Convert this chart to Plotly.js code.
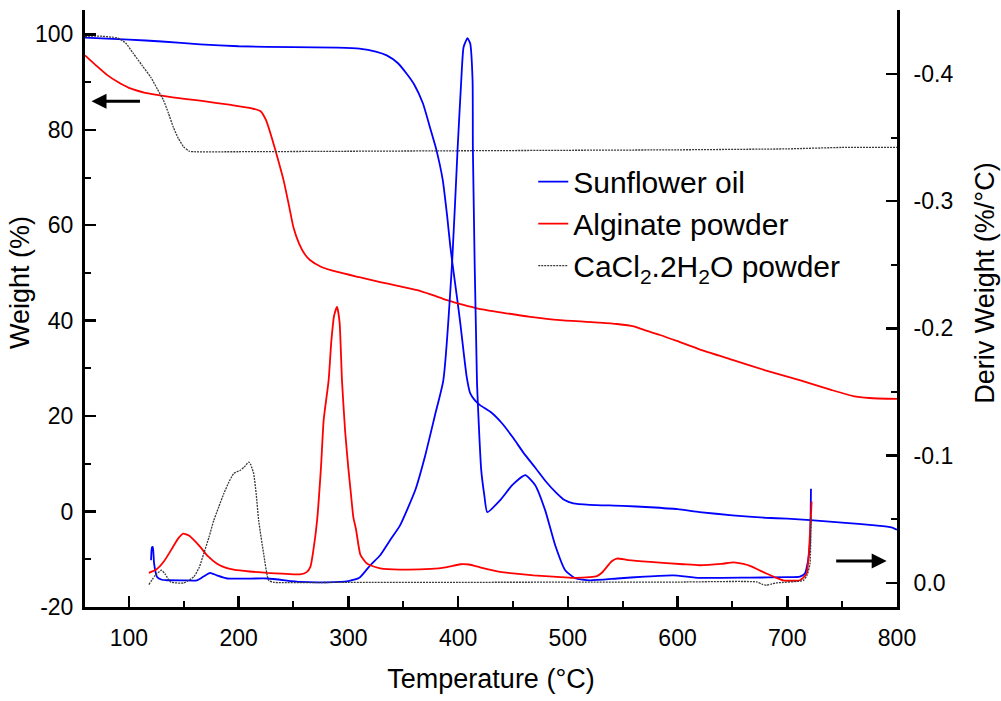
<!DOCTYPE html>
<html>
<head>
<meta charset="utf-8">
<script src="https://cdn.plot.ly/plotly-3.0.1.min.js"></script>
<style>html,body{margin:0;padding:0;background:#fff}#chart{width:1001px;height:701px}</style>
</head>
<body>
<div id="chart"></div>
<script>
// ---- Weight (%) curves, left axis ----
const sfT = [60,80,100,130,165,200,250,290,310,325,335,345,353,360,368,375,380,386,390,393,396,399,402,405,408,411,415,420,430,440,450,460,470,480,490,497,505,520,550,575,600,620,650,680,700,721,750,780,795,800];
const sfW = [99.3,99.1,98.9,98.5,97.9,97.5,97.3,97.2,97.0,96.4,95.6,94.0,91.8,89.5,85.5,80.0,76.0,69.5,62.0,55.4,50.0,44.9,39.5,33.5,28.0,24.8,23.4,22.3,20.8,18.5,15.5,12.2,9.3,6.3,3.8,2.4,1.7,1.4,1.2,0.9,0.5,-0.1,-0.8,-1.3,-1.5,-1.8,-2.3,-2.9,-3.3,-3.8];

const alT = [60,70,80,90,100,120,140,165,193,210,220,225,230,235,241,246,250,255,260,265,275,290,310,329,345,363,375,390,405,417,440,466,493,529,545,560,570,584,600,620,650,680,712,740,760,775,800];
const alW = [95.6,93.5,91.5,90.0,88.8,87.5,86.8,86.1,85.2,84.6,83.9,82.0,78.5,74.5,69.4,64.0,59.5,56.2,54.0,52.7,51.3,50.2,49.1,48.1,47.3,46.4,45.5,44.3,43.3,42.6,41.7,40.8,40.1,39.6,39.3,38.8,38.0,37.0,35.7,34.0,31.8,29.6,27.5,25.5,24.2,23.8,23.6];

const caT = [60,75,85,90,97,104,112,120,126,131.5,136,140.6,145,150,155,160,200,300,400,500,600,700,750,800];
const caW = [99.6,99.6,99.4,99.2,98.2,96.0,93.5,91.0,88.5,86.2,83.5,80.5,78.2,76.4,75.5,75.4,75.4,75.5,75.6,75.7,75.8,76.0,76.3,76.3];

// ---- Derivative weight (%/°C) curves, right axis ----
const sfdT = [120.2,121.0,121.8,123,125.7,130,135,150,162,168,174,180,189.5,226,256,280,300,310,320,329,338,347,361,370,379,386.5,394.7,399.5,402.9,405,408.6,411,413.2,413.5,417.2,421.1,423.9,426.6,438.4,449.3,461.2,470.3,479.4,488.5,497.6,506.7,520,545,570,596,620,666,700,711.5,716,719,720.7,721.6];
const sfD = [-0.0178,-0.028,-0.0283,-0.015,-0.0047,-0.0025,-0.0021,-0.002,-0.002,-0.005,-0.0079,-0.006,-0.0035,-0.0035,-0.0008,-0.0005,-0.0015,-0.004,-0.0139,-0.0218,-0.0336,-0.045,-0.073,-0.1,-0.132,-0.159,-0.254,-0.34,-0.395,-0.421,-0.428,-0.424,-0.395,-0.34,-0.159,-0.0886,-0.069,-0.0556,-0.065,-0.0768,-0.0847,-0.0768,-0.057,-0.0296,-0.01,-0.0037,-0.002,-0.0035,-0.005,-0.006,-0.004,-0.0042,-0.0045,-0.005,-0.0074,-0.0178,-0.031,-0.074];

const adT = [118.2,125,132,140,145,149.5,155,160,165,172,180,188,195.5,210,226,240,256,262,265.4,268,271.5,275,277.5,282,284.5,287,289.7,292,294.2,297,300,302,304.5,307,311,316,320,329,347,375,390,402,410,420,438.4,450,468.7,490,505,520,526.4,531,535.6,540,544.7,555,575,605,620,640,651,660,666,681,690,696,711.5,717.6,720.7,722.2];
const adD = [-0.0079,-0.0105,-0.017,-0.028,-0.035,-0.0388,-0.037,-0.033,-0.0283,-0.021,-0.0153,-0.012,-0.0105,-0.009,-0.0079,-0.0073,-0.0068,-0.0085,-0.0126,-0.025,-0.049,-0.09,-0.128,-0.159,-0.19,-0.21,-0.217,-0.205,-0.159,-0.12,-0.09,-0.073,-0.052,-0.042,-0.022,-0.016,-0.0139,-0.0115,-0.0105,-0.011,-0.0125,-0.0147,-0.0145,-0.0123,-0.0087,-0.0075,-0.006,-0.0048,-0.004,-0.0045,-0.0053,-0.008,-0.0126,-0.017,-0.0192,-0.018,-0.0165,-0.0147,-0.0139,-0.015,-0.0162,-0.015,-0.0134,-0.0074,-0.004,-0.0021,-0.0021,-0.0074,-0.039,-0.064];

const cdT = [118.2,124,129.7,133,137.9,150,159,164,168.2,173,177.3,182,186.4,191,195.5,201.6,205,209.2,211,213.7,216,218.3,222.8,227.4,232,300,400,500,600,672,677,681,686,690,714.6,718,720.7,721.6];
const cdD = [0.0013,-0.006,-0.01,-0.007,-0.0008,0.0,-0.0047,-0.012,-0.023,-0.036,-0.049,-0.06,-0.07,-0.079,-0.086,-0.0886,-0.091,-0.095,-0.093,-0.086,-0.07,-0.049,-0.023,-0.002,-0.0005,-0.0005,-0.0005,-0.0006,-0.0007,-0.0008,0.001,0.0018,0.0008,0.0,-0.002,-0.006,-0.015,-0.052];

const seriesNames = ['Sunflower oil','Alginate powder','CaCl<sub>2</sub>.2H<sub>2</sub>O powder'];

const leftTickVals = [-20,0,20,40,60,80,100];
const leftTickText = ['-20','0','20','40','60','80','100'];
const rightTickVals = [0,-0.1,-0.2,-0.3,-0.4];
const rightTickText = ['0.0','-0.1','-0.2','-0.3','-0.4'];

const BLUE = '#0000ff', RED = '#ff0000', GRAY = '#3a3a3a';
const grayDash = '2px,1px';
const SM = 0.5;

const traces = [
  {x: sfT, y: sfW, name: seriesNames[0], type: 'scatter', mode: 'lines', line: {color: BLUE, width: 1.8, shape: 'spline', smoothing: SM}, xaxis: 'x', yaxis: 'y'},
  {x: alT, y: alW, name: seriesNames[1], type: 'scatter', mode: 'lines', line: {color: RED, width: 1.8, shape: 'spline', smoothing: SM}, xaxis: 'x', yaxis: 'y'},
  {x: caT, y: caW, name: seriesNames[2], type: 'scatter', mode: 'lines', line: {color: GRAY, width: 1.3, dash: grayDash, shape: 'spline', smoothing: SM}, xaxis: 'x', yaxis: 'y'},
  {x: sfdT, y: sfD, name: seriesNames[0], showlegend: false, type: 'scatter', mode: 'lines', line: {color: BLUE, width: 1.8, shape: 'spline', smoothing: SM}, xaxis: 'x', yaxis: 'y2'},
  {x: adT, y: adD, name: seriesNames[1], showlegend: false, type: 'scatter', mode: 'lines', line: {color: RED, width: 1.8, shape: 'spline', smoothing: SM}, xaxis: 'x', yaxis: 'y2'},
  {x: cdT, y: cdD, name: seriesNames[2], showlegend: false, type: 'scatter', mode: 'lines', line: {color: GRAY, width: 1.3, dash: grayDash, shape: 'spline', smoothing: SM}, xaxis: 'x', yaxis: 'y2'}
];

const FONT = '"Liberation Sans", Arial, sans-serif';

const layout = {
  width: 1001, height: 701,
  margin: {l: 85, r: 104, t: 10, b: 94, pad: 0},
  paper_bgcolor: '#fff', plot_bgcolor: '#fff',
  font: {family: FONT, size: 23, color: '#000'},
  showlegend: true,
  legend: {x: 0.552, y: 0.756, xanchor: 'left', yanchor: 'top', bgcolor: 'rgba(0,0,0,0)', borderwidth: 0, font: {family: FONT, size: 30, color: '#000'}, itemwidth: 30},
  xaxis: {
    range: [60, 800], tick0: 0, dtick: 100, ticks: 'inside', ticklen: 11, tickwidth: 2.5, tickcolor: '#000',
    minor: {ticks: 'inside', ticklen: 6, tickwidth: 2, dtick: 50, tick0: 0, tickcolor: '#000', showgrid: false},
    showline: true, linewidth: 3, linecolor: '#000', showgrid: false, zeroline: false,
    tickfont: {family: FONT, size: 23}, ticklabelstandoff: 8,
    title: {text: 'Temperature (°C)', font: {family: FONT, size: 27}, standoff: 20}
  },
  xaxis2: {
    overlaying: 'x', side: 'top', anchor: 'y', range: [60, 800], tick0: 0, dtick: 100,
    ticks: 'outside', ticklen: 10, tickwidth: 2.5, tickcolor: '#000',
    minor: {ticks: 'outside', ticklen: 5, tickwidth: 2, dtick: 50, tick0: 0, tickcolor: '#000', showgrid: false},
    showticklabels: false, showline: true, linewidth: 3, linecolor: '#000', showgrid: false, zeroline: false
  },
  yaxis: {
    range: [-20, 105.1], tickvals: leftTickVals, ticktext: leftTickText,
    ticks: 'inside', ticklen: 11, tickwidth: 2.5, tickcolor: '#000',
    minor: {ticks: 'inside', ticklen: 6, tickwidth: 2, dtick: 10, tick0: 0, tickcolor: '#000', showgrid: false},
    showline: true, linewidth: 3, linecolor: '#000', showgrid: false, zeroline: false,
    tickfont: {family: FONT, size: 23}, ticklabelstandoff: 4
  },
  yaxis2: {
    overlaying: 'y', side: 'right', anchor: 'x', range: [0.0189, -0.4502],
    tickvals: rightTickVals, ticktext: rightTickText,
    ticks: 'inside', ticklen: 11, tickwidth: 2.5, tickcolor: '#000',
    minor: {ticks: 'inside', ticklen: 6, tickwidth: 2, dtick: 0.05, tick0: 0, tickcolor: '#000', showgrid: false},
    showline: true, linewidth: 3, linecolor: '#000', showgrid: false, zeroline: false,
    tickfont: {family: FONT, size: 23}, ticklabelstandoff: 9
  },
  annotations: [
    {text: 'Weight (%)', xref: 'paper', yref: 'paper', x: -0.080, y: 0.5427, xanchor: 'center', yanchor: 'middle', textangle: -90, showarrow: false, font: {family: FONT, size: 27, color: '#000'}},
    {text: 'Deriv Weight (%/°C)', xref: 'paper', yref: 'paper', x: 1.108, y: 0.5427, xanchor: 'center', yanchor: 'middle', textangle: -90, showarrow: false, font: {family: FONT, size: 27, color: '#000'}},
    {text: '', xref: 'x', yref: 'y', x: 65.9, y: 86.0, axref: 'pixel', ayref: 'pixel', ax: 50, ay: 0, showarrow: true, arrowhead: 2, arrowsize: 1, arrowwidth: 3, arrowcolor: '#000', standoff: 0},
    {text: '', xref: 'x', yref: 'y2', x: 790.6, y: -0.0173, axref: 'pixel', ayref: 'pixel', ax: -52, ay: 0, showarrow: true, arrowhead: 2, arrowsize: 1, arrowwidth: 3, arrowcolor: '#000', standoff: 0}
  ]
};

Plotly.newPlot('chart', traces, layout, {displayModeBar: false, staticPlot: true});
</script>
</body>
</html>
